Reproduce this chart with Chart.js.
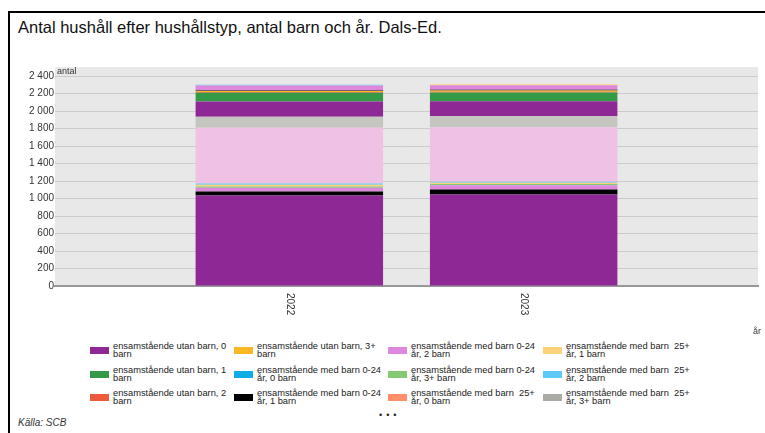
<!DOCTYPE html>
<html>
<head>
<meta charset="utf-8">
<script src="https://cdn.jsdelivr.net/npm/chart.js@4/dist/chart.umd.min.js"></script>
<style>
  html, body { margin:0; padding:0; background:#fff; }
  body { width:765px; height:433px; overflow:hidden; position:relative; font-family:'Liberation Sans', Arial, sans-serif; color:#000; }
  #frame { position:absolute; left:8px; top:11px; width:800px; height:460px; border:2px solid #000; box-sizing:border-box; }
  #title { position:absolute; left:18px; top:18px; font-size:16.5px; white-space:nowrap; color:#111; }
  #chart { position:absolute; left:0; top:0; }
  .lbl { position:absolute; font-size:9px; line-height:9px; color:#333; white-space:nowrap; }
  #legend { position:absolute; left:90px; top:342px; display:grid; grid-template-columns:144px 154px 155px 155px; grid-template-rows:repeat(3, 23.5px); grid-auto-flow:column; }
  .item { position:relative; }
  .sw { position:absolute; left:0; top:5px; width:19px; height:7px; }
  .tx { margin-left:23px; width:128px; font-size:9.3px; line-height:8px; white-space:pre-wrap; color:#222; }
  #more { position:absolute; left:379px; top:410px; font-size:9px; letter-spacing:4px; color:#222; }
  #source { position:absolute; left:18px; top:417px; font-size:10px; font-style:italic; color:#333; }
</style>
</head>
<body>
<div id="frame"></div>
<div id="title">Antal hushåll efter hushållstyp, antal barn och år. Dals-Ed.</div>
<canvas id="chart" width="765" height="340"></canvas>
<div class="lbl" style="left:57px;top:67px;">antal</div>
<div class="lbl" style="left:753px;top:327px;">år</div>
<div id="legend"></div>
<div id="more">•••</div>
<div id="source">Källa: SCB</div>
<script>
// ---- data ----
const years = ['2022', '2023'];
const householdTypes = [
  'ensamstående utan barn',
  'ensamstående med barn 0-24 år',
  'ensamstående med barn  25+ år',
  'sammanboende utan barn',
  'sammanboende med barn 0-24 år',
  'sammanboende med barn 25+ år',
  'övriga hushåll utan barn',
  'övriga hushåll med barn 0-24 år',
  'övriga hushåll med barn 25+ år'
];
const childCounts = ['0 barn', '1 barn', '2 barn', '3+ barn'];
// one value per (household type, number of children), same order as the series
const values2022 = [
  1034, 0, 0, 0,
  0, 46, 44, 15,
  0, 18, 15, 0,
  637, 0, 0, 0,
  0, 126, 176, 99,
  8, 13, 0, 6,
  56, 0, 0, 0,
  10, 0, 0, 0,
  0, 0, 0, 0
];
const values2023 = [
  1048, 0, 0, 0,
  0, 55, 48, 15,
  0, 15, 12, 0,
  622, 0, 0, 0,
  0, 128, 170, 100,
  8, 14, 0, 10,
  50, 0, 0, 14,
  0, 0, 0, 0,
  0, 0, 0, 0
];
const yTicks = [0, 200, 400, 600, 800, 1000, 1200, 1400, 1600, 1800, 2000, 2200, 2400];
const legendShown = 12;

// ---- styles ----
const palette = ['#8E2895','#349A46','#EE5A3C','#FBB824','#10ACE8','#000000','#DD88DD','#86C975',
                 '#FF8F6B','#FFD27C','#5DC9F6','#ABABA6','#EFC1E5','#B59BD2','#7FB8D8','#F6B08E','#B7DD94','#C6C6C0'];
const FONT = "'Liberation Sans', Arial, sans-serif";

const datasets = [];
householdTypes.forEach((t, ti) => {
  childCounts.forEach((c, ci) => {
    const i = ti * childCounts.length + ci;
    datasets.push({
      label: t + ', ' + c,
      data: [null, values2022[i], values2023[i], null],
      backgroundColor: palette[i % palette.length],
      borderWidth: 0
    });
  });
});

const plotBg = {
  id: 'plotBg',
  beforeDraw(chart) {
    const {ctx, chartArea: a} = chart;
    ctx.save();
    ctx.fillStyle = '#E8E8E8';
    ctx.fillRect(a.left, a.top, a.right - a.left, a.bottom - a.top);
    ctx.restore();
  }
};
const xLabels = {
  id: 'xLabels',
  afterDraw(chart) {
    const {ctx, scales: {x}} = chart;
    ctx.save();
    ctx.font = '10px ' + FONT;
    ctx.fillStyle = '#333';
    ctx.textAlign = 'left';
    ctx.textBaseline = 'middle';
    years.forEach((yr, i) => {
      const px = x.getPixelForValue(i + 1);
      ctx.save();
      ctx.translate(px, chart.chartArea.bottom + 7);
      ctx.rotate(Math.PI / 2);
      ctx.fillText(yr, 0, 0);
      ctx.restore();
    });
    ctx.restore();
  }
};

const fmt = v => String(v).replace(/\B(?=(\d{3})+(?!\d))/g, '\u00a0');

const chart = new Chart(document.getElementById('chart'), {
  type: 'bar',
  data: { labels: ['', ...years, ''], datasets },
  options: {
    responsive: false,
    animation: false,
    layout: { padding: { left: 0, top: 67, right: 7, bottom: 0 } },
    plugins: { legend: { display: false }, tooltip: { enabled: false } },
    datasets: { bar: { categoryPercentage: 1, barPercentage: 0.8 } },
    scales: {
      x: {
        stacked: true,
        offset: false,
        grid: { display: false },
        border: { display: true, color: '#999', width: 2 },
        ticks: { display: false },
        afterFit: s => { s.height = 54; }
      },
      y: {
        stacked: true,
        min: 0,
        max: 2505,
        afterBuildTicks: s => { s.ticks = yTicks.map(v => ({ value: v })); },
        ticks: { callback: v => fmt(v), font: { family: FONT, size: 10 }, color: '#333', padding: 1 },
        grid: { color: '#CBCBCB', drawTicks: false, lineWidth: 1 },
        border: { display: false },
        afterFit: s => { s.width = 55; }
      }
    }
  },
  plugins: [plotBg, xLabels]
});

// HTML legend built from the chart's datasets
const leg = document.getElementById('legend');
chart.data.datasets.slice(0, legendShown).forEach(ds => {
  const it = document.createElement('div');
  it.className = 'item';
  const sw = document.createElement('div');
  sw.className = 'sw';
  sw.style.background = ds.backgroundColor;
  const tx = document.createElement('div');
  tx.className = 'tx';
  tx.textContent = ds.label;
  it.appendChild(sw);
  it.appendChild(tx);
  leg.appendChild(it);
});
</script>
</body>
</html>
